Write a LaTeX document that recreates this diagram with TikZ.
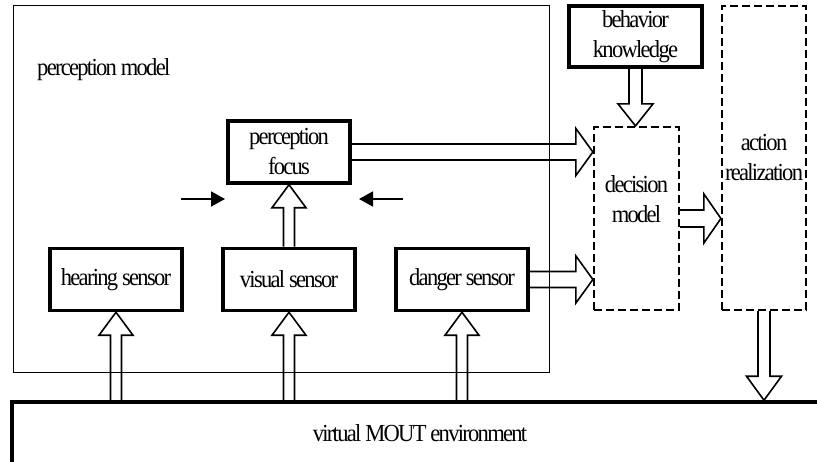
\documentclass[tikz,border=0pt]{standalone}
\usepackage{fontspec}
\setmainfont{Liberation Serif}[FakeStretch=0.92, LetterSpace=-7]
\usetikzlibrary{calc,arrows.meta}

% hollow block arrows: from, to, shaft half width, head half width, head length
\newcommand{\fatv}[5]{%
  \draw[fat] let \p1=(#1), \p2=(#2), \n1={sign(\y2-\y1)} in
    (\x1+#3,\y1) -- (\x1+#3,\y2-\n1*#5) -- (\x1+#4,\y2-\n1*#5) -- (\x1,\y2)
    -- (\x1-#4,\y2-\n1*#5) -- (\x1-#3,\y2-\n1*#5) -- (\x1-#3,\y1);}
\newcommand{\fath}[5]{%
  \draw[fat] let \p1=(#1), \p2=(#2) in
    (\x1,\y1+#3) -- (\x2-#5,\y1+#3) -- (\x2-#5,\y1+#4) -- (\x2,\y1)
    -- (\x2-#5,\y1-#4) -- (\x2-#5,\y1-#3) -- (\x1,\y1-#3);}

\begin{document}
\begin{tikzpicture}[x=1pt,y=1pt,
    font=\fontsize{24.5}{30}\selectfont,
    box/.style={draw, line width=3.5pt, align=center, inner sep=1pt, minimum height=62pt},
    dbox/.style={draw, line width=2.2pt, dash pattern=on 8pt off 4pt, align=center, inner sep=0pt},
    fat/.style={line width=1.6pt},
    thin arrow/.style={line width=1.8pt, -{Triangle[length=14pt,width=15pt]}}]
    \useasboundingbox (0,0) rectangle (817,461);

    % environment
    \node[draw, line width=3.5pt, minimum width=816pt, minimum height=62pt, inner sep=0pt] (env) at (420,28) {virtual MOUT environment};

    % perception model frame
    \node[draw, line width=1pt, minimum width=536pt, minimum height=366pt] (pm) at (281,272) {};
    \node[anchor=west, inner sep=0pt] (pmlabel) at (37,391) {perception model};

    \node[box, minimum width=122pt] (pf) at (289,309) {perception\\focus};
    \node[box, minimum width=132pt] (hs) at (116,181.5) {hearing sensor};
    \node[box, minimum width=132pt] (vs) at (289,181.5) {visual sensor};
    \node[box, minimum width=132pt] (ds) at (462,181.5) {danger sensor};
    \node[box, minimum width=133pt, minimum height=61pt] (bk) at (635.5,424.5) {behavior\\knowledge};
    \node[dbox, minimum width=85pt, minimum height=183pt] (dm) at (636.5,242.5) {decision\\model\\[8pt]};
    \node[dbox, minimum width=84pt, minimum height=304pt] (ar) at (764,303) {action\\realization};

    % block arrows
    \fatv{hs.south |- env.north}{hs.south}{5.5}{17}{23}
    \fatv{vs.south |- env.north}{vs.south}{5.5}{17}{23}
    \fatv{ds.south |- env.north}{ds.south}{5.5}{17}{23}
    \fatv{vs.north}{pf.south}{5.5}{17}{23}
    \fatv{bk.south}{bk.south |- dm.north}{6.5}{17.5}{22}
    \fatv{ar.south}{ar.south |- env.north}{6}{17.5}{24}
    \fath{pf.east}{pf.east -| dm.west}{8}{23.5}{17}
    \fath{ds.east}{ds.east -| dm.west}{8}{23.5}{17}
    \fath{dm.east}{dm.east -| ar.west}{8.5}{24.5}{17}

    % focus arrows
    \coordinate (fl0) at (181,262);
    \coordinate (fl1) at (225,262);
    \coordinate (fr0) at (403,262);
    \coordinate (fr1) at (359,262);
    \draw[thin arrow] (fl0) -- (fl1);
    \draw[thin arrow] (fr0) -- (fr1);
\end{tikzpicture}
\end{document}
